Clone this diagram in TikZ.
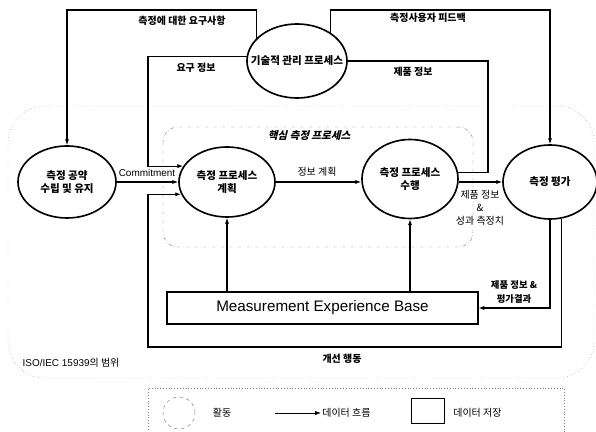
\documentclass[tikz,border=0pt]{standalone}
\usepackage{fontspec}
\setmainfont{Liberation Sans}
\newfontfamily\kr{Noto Sans CJK KR}
\newfontfamily\krsl{Noto Sans CJK KR}[FakeSlant=0.25]
\usepackage{tikz}
\usetikzlibrary{arrows.meta,positioning,shapes.geometric}

\begin{document}
\begin{tikzpicture}[x=0.03cm,y=-0.03cm,
  act/.style={ellipse,draw,line width=1.4pt,inner sep=0pt},
  actlabel/.style={font=\kr\bfseries\fontsize{9}{11}\selectfont,align=center,inner sep=0pt},
  flow/.style={-{Latex[length=5pt,width=3.6pt]},line width=0.9pt},
  link/.style={line width=0.9pt},
  tag/.style={font=\kr\bfseries\fontsize{8.5}{11}\selectfont,inner sep=1pt,align=center},
  note/.style={font=\kr\fontsize{8.5}{11}\selectfont,inner sep=1pt,align=center}]
  \useasboundingbox (0,0) rectangle (596,432);

  % scope of the standard, core process
  \draw[gray,dotted,thin,rounded corners=1.1cm] (8,106) rectangle (594,378);
  \draw[gray,dash dot,thin,rounded corners=0.45cm] (163,127) rectangle (473,247);
  \node[font=\krsl\bfseries\fontsize{9}{11}\selectfont] (core-t) at (309,136) {핵심 측정 프로세스};
  \node[font=\fontsize{8.5}{10}\selectfont,inner sep=1pt] (scope-t) at (71,363) {ISO/IEC 15939{\kr 의 범위}};

  % activities
  \foreach \n/\x/\y/\w/\h/\t in {tech/297/61/3.0/2.22/{기술적 관리 프로세스},
                                 commit/67/182/2.94/2.16/{측정 공약\\수립 및 유지},
                                 plan/227/182/2.88/2.1/{측정 프로세스\\계획},
                                 exec/410/179/2.88/2.37/{측정 프로세스\\수행},
                                 eval/550/182/2.82/2.22/{측정 평가}}{
    \node[act,minimum width=\w cm,minimum height=\h cm] (\n) at (\x,\y) {};
    \node[actlabel] (\n-t) at (\n) {\t};}

  \node[draw,line width=0.9pt,minimum width=9.33cm,minimum height=0.96cm,
        font=\fontsize{13}{15}\selectfont] (meb) at (322.5,308) {Measurement Experience Base};

  \coordinate (topline) at (0,10);
  \coordinate (leftline) at (148,0);
  \coordinate (botline) at (0,347);
  \coordinate (prodline) at (488,0);

  % data flows
  \draw[flow] (tech.150) |- (commit.north |- topline) -- (commit.north);
  \draw[flow] (tech.40) |- (eval.north |- topline) -- (eval.north);
  \draw[flow] (tech.175) -| (leftline |- plan.160) -- (plan.160);
  \draw[link] (tech.east) -| (prodline |- exec.8) -- (exec.8);
  \draw[flow] (commit.east) -- (plan.west);
  \draw[flow] (plan.east) -- (plan.east -| exec.west);
  \draw[flow] (exec.east |- eval.west) -- (eval.west);
  \draw[flow] (eval.south) |- (meb.east);
  \draw[flow] (eval.-72) |- (leftline |- botline) |- (plan.195);
  \draw[flow] (meb.north -| plan.south) -- (plan.south);
  \draw[flow] (meb.north -| exec.south) -- (exec.south);

  \node[tag] (req-t) at (182,21) {측정에 대한 요구사항};
  \node[tag] (fb-t) at (428,18) {측정사용자 피드백};
  \node[tag] (need-t) at (196,68) {요구 정보};
  \node[tag] (prod-t) at (413,72) {제품 정보};
  \node[font=\fontsize{8.5}{10}\selectfont,inner sep=1pt] (com-t) at (147,173) {Commitment};
  \node[note] (info-t) at (317,172) {정보 계획};
  \node[note] (perf-t) at (480,208) {제품 정보\\\&\\성과 측정치};
  \node[tag,font=\kr\bfseries\fontsize{8}{12}\selectfont] (res-t) at (514,292) {제품 정보 \&\\평가결과};
  \node[tag] (imp-t) at (342,359) {개선 행동};

  % legend
  \draw[gray,dotted] (148,432) |- (564,388) -- (564,432);
  \node[circle,draw,gray,dashed,minimum size=0.96cm] (lg-act) at (179,413) {};
  \node[note] (lg-act-t) at (222,413) {활동};
  \coordinate (lg-a) at (275,413);
  \node[note,anchor=west] (lg-flow-t) at (321,413) {데이터 흐름};
  \draw[flow,line width=0.6pt] (lg-a) -- (lg-flow-t.west);
  \node[draw,minimum width=0.99cm,minimum height=0.75cm] (lg-store) at (427.5,410.5) {};
  \node[note,anchor=west] (lg-store-t) at (452,413) {데이터 저장};
\end{tikzpicture}
\end{document}
